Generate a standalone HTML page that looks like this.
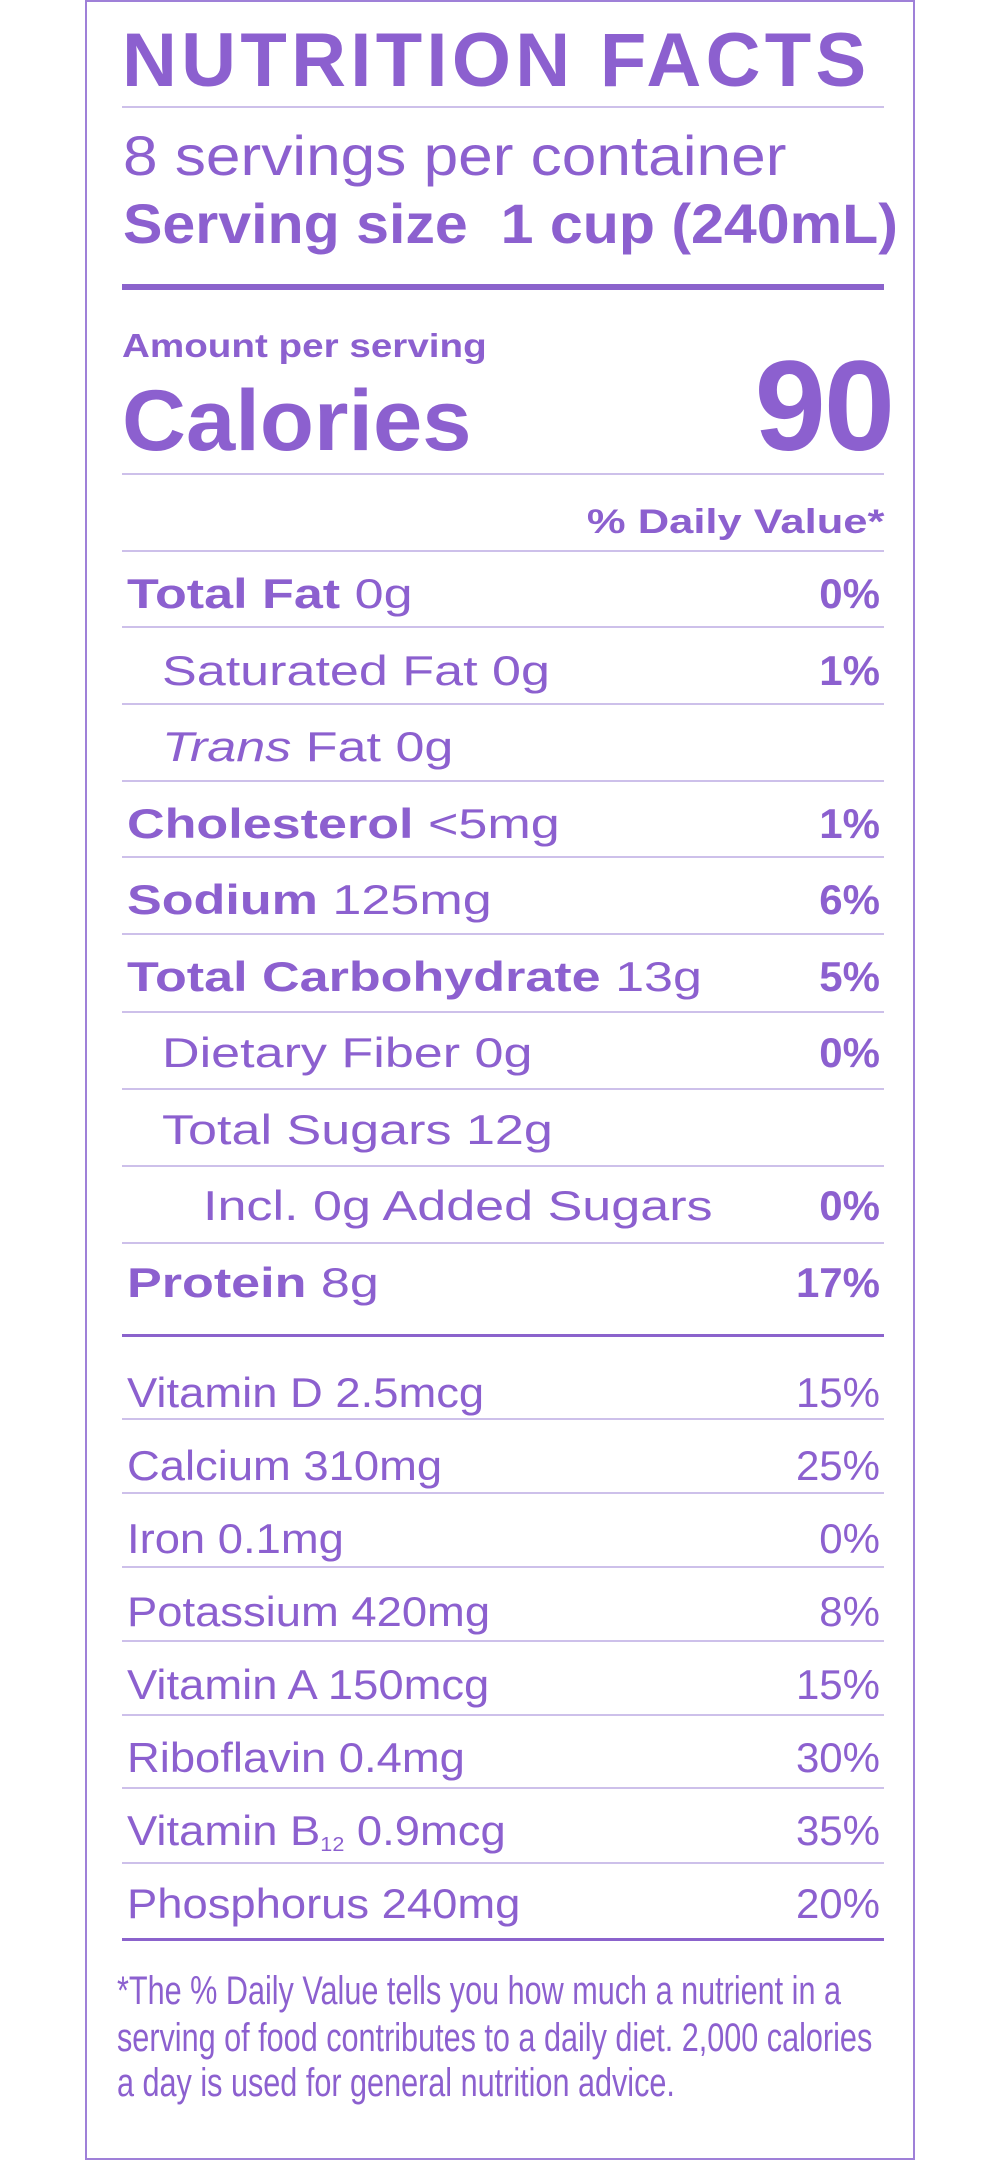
<!DOCTYPE html>
<html><head><meta charset="utf-8"><style>
html,body{margin:0;padding:0;background:#fff;}
body{width:1000px;height:2144px;position:relative;overflow:hidden;font-family:"Liberation Sans",sans-serif;color:#8c60cf;}
.b{position:absolute;left:85px;width:830px;top:0;height:2160px;border:2px solid #9f80d8;box-sizing:border-box;}
.t{position:absolute;line-height:1;white-space:nowrap;transform-origin:left center;}
.r{position:absolute;line-height:1;white-space:nowrap;right:120px;text-align:right;transform-origin:right center;}
.l{position:absolute;left:122px;width:762px;height:2px;background:#cdc0ea;}
.k{position:absolute;left:122px;width:762px;background:#8b63cc;}
.bold{font-weight:bold;}
.row{font-size:42px;}
.m{transform:scaleX(1.24);}
.v{transform:scaleX(1.08);}
.f{font-size:40px;transform:scaleX(0.765);}
</style></head><body>
<div class="b"></div>
<div class="t bold" style="left:122px;top:23px;font-size:76px;letter-spacing:4.3px;">NUTRITION FACTS</div>
<div class="l" style="top:106px"></div>
<div class="t" style="left:123px;top:128px;font-size:56px;transform:scaleX(1.11)">8 servings per container</div>
<div class="t bold" style="left:123px;top:196px;font-size:56px;transform:scaleX(1.055)">Serving size&nbsp; 1 cup (240mL)</div>
<div class="k" style="top:284px;height:6px"></div>
<div class="t bold" style="left:122px;top:329px;font-size:33px;transform:scaleX(1.17)">Amount per serving</div>
<div class="t bold" style="left:122px;top:378px;font-size:86px;transform:scaleX(1.03)">Calories</div>
<div class="r bold" style="right:107px;top:343px;font-size:128px;letter-spacing:-2px;">90</div>
<div class="l" style="top:473px"></div>
<div class="r bold" style="right:116px;top:505px;font-size:34px;transform:scaleX(1.28)">% Daily Value*</div>
<div class="l" style="top:550px"></div>

<div class="t row m" style="left:127px;top:573px"><b>Total Fat</b> 0g</div><div class="r row bold" style="top:573px">0%</div>
<div class="l" style="top:626px"></div>
<div class="t row m" style="left:162px;top:650px">Saturated Fat 0g</div><div class="r row bold" style="top:650px">1%</div>
<div class="l" style="top:703px"></div>
<div class="t row m" style="left:162px;top:726px"><i>Trans</i> Fat 0g</div>
<div class="l" style="top:780px"></div>
<div class="t row m" style="left:127px;top:803px"><b>Cholesterol</b> &lt;5mg</div><div class="r row bold" style="top:803px">1%</div>
<div class="l" style="top:856px"></div>
<div class="t row m" style="left:127px;top:879px"><b>Sodium</b> 125mg</div><div class="r row bold" style="top:879px">6%</div>
<div class="l" style="top:933px"></div>
<div class="t row m" style="left:127px;top:956px"><b>Total Carbohydrate</b> 13g</div><div class="r row bold" style="top:956px">5%</div>
<div class="l" style="top:1011px"></div>
<div class="t row m" style="left:162px;top:1032px">Dietary Fiber 0g</div><div class="r row bold" style="top:1032px">0%</div>
<div class="l" style="top:1088px"></div>
<div class="t row m" style="left:162px;top:1109px">Total Sugars 12g</div>
<div class="l" style="top:1165px"></div>
<div class="t row m" style="left:203px;top:1185px">Incl. 0g Added Sugars</div><div class="r row bold" style="top:1185px">0%</div>
<div class="l" style="top:1242px"></div>
<div class="t row m" style="left:127px;top:1262px"><b>Protein</b> 8g</div><div class="r row bold" style="top:1262px">17%</div>
<div class="k" style="top:1334px;height:3px"></div>

<div class="t row v" style="left:127px;top:1372px">Vitamin D 2.5mcg</div><div class="r row" style="top:1372px">15%</div>
<div class="l" style="top:1418px"></div>
<div class="t row v" style="left:127px;top:1445px">Calcium 310mg</div><div class="r row" style="top:1445px">25%</div>
<div class="l" style="top:1492px"></div>
<div class="t row v" style="left:127px;top:1518px">Iron 0.1mg</div><div class="r row" style="top:1518px">0%</div>
<div class="l" style="top:1566px"></div>
<div class="t row v" style="left:127px;top:1591px">Potassium 420mg</div><div class="r row" style="top:1591px">8%</div>
<div class="l" style="top:1640px"></div>
<div class="t row v" style="left:127px;top:1664px">Vitamin A 150mcg</div><div class="r row" style="top:1664px">15%</div>
<div class="l" style="top:1714px"></div>
<div class="t row v" style="left:127px;top:1737px">Riboflavin 0.4mg</div><div class="r row" style="top:1737px">30%</div>
<div class="l" style="top:1787px"></div>
<div class="t row v" style="left:127px;top:1810px">Vitamin B<sub style="font-size:20px;vertical-align:-6px">12</sub> 0.9mcg</div><div class="r row" style="top:1810px">35%</div>
<div class="l" style="top:1862px"></div>
<div class="t row v" style="left:127px;top:1883px">Phosphorus 240mg</div><div class="r row" style="top:1883px">20%</div>
<div class="k" style="top:1938px;height:3px"></div>

<div class="t f" style="left:117px;top:1971px;">*The % Daily Value tells you how much a nutrient in a</div>
<div class="t f" style="left:117px;top:2018px;">serving of food contributes to a daily diet. 2,000 calories</div>
<div class="t f" style="left:117px;top:2063px;">a day is used for general nutrition advice.</div>
</body></html>
